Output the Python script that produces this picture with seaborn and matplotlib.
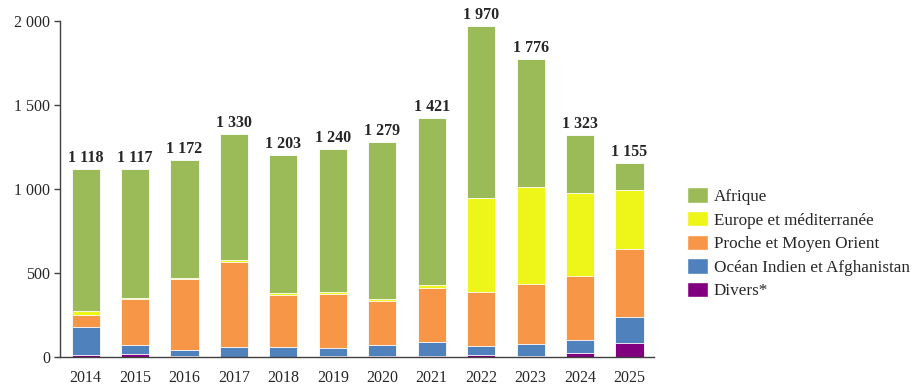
import matplotlib
matplotlib.use("Agg")
import matplotlib.pyplot as plt
import matplotlib.ticker as mticker
from matplotlib.patches import Patch
import seaborn as sns
import pandas as pd

years = [str(y) for y in range(2014, 2026)]
afrique = [846, 766, 702, 753, 824, 855, 936, 994, 1026, 766, 347, 163]
europe = [22, 4, 4, 12, 10, 8, 10, 14, 559, 574, 496, 347]
proche = [71, 276, 426, 507, 311, 321, 262, 322, 320, 359, 381, 407]
ocean = [169, 55, 32, 56, 56, 51, 67, 83, 53, 69, 75, 157]
divers = [10, 16, 8, 2, 2, 5, 4, 8, 12, 8, 24, 81]
totals = [1118, 1117, 1172, 1330, 1203, 1240, 1279, 1421, 1970, 1776, 1323, 1155]

series = ["Afrique", "Europe et méditerranée", "Proche et Moyen Orient",
          "Océan Indien et Afghanistan", "Divers*"]
colors = ["#9BBB59", "#EEF518", "#F79646", "#4F81BD", "#800080"]

df = pd.DataFrame({"Année": years, "Afrique": afrique,
                   "Europe et méditerranée": europe,
                   "Proche et Moyen Orient": proche,
                   "Océan Indien et Afghanistan": ocean, "Divers*": divers})

# cumulative from the bottom (Divers) up, drawn tallest first
stack_order = series[::-1]
cum = df[stack_order].cumsum(axis=1)

sns.set_style("white")
plt.rcParams["font.family"] = ["Liberation Serif", "DejaVu Serif"]

fig = plt.figure(figsize=(9.22, 3.91), dpi=100)
ax = fig.add_axes([0.065, 0.087, 0.644, 0.859])

for name, col in zip(series, colors):
    sns.barplot(x=df["Année"], y=cum[name], color=col, width=0.57,
                edgecolor="white", linewidth=0.6, saturation=1, ax=ax)

for i, t in enumerate(totals):
    ax.text(i, t + 18, f"{t:,}".replace(",", " "), ha="center", va="bottom",
            fontsize=11.5, fontweight="bold", clip_on=False)

ax.set_ylim(0, 2000)
ax.set_xlim(-0.52, 11.49)
ax.set_yticks([0, 500, 1000, 1500, 2000])
ax.yaxis.set_major_formatter(mticker.FuncFormatter(lambda v, p: f"{int(v):,}".replace(",", " ")))
ax.set_xlabel("")
ax.set_ylabel("")
ax.tick_params(axis="y", left=True, length=4, width=1, color="#404040", labelsize=11.5, pad=3)
ax.tick_params(axis="x", bottom=False, labelsize=11.5, pad=6)
for s in ["top", "right"]:
    ax.spines[s].set_visible(False)
for s in ["left", "bottom"]:
    ax.spines[s].set_color("#404040")
    ax.spines[s].set_linewidth(1)

handles = [Patch(facecolor=c, edgecolor="white", label=n) for n, c in zip(series, colors)]
fig.legend(handles=handles, loc="upper left", bbox_to_anchor=(0.728, 0.56),
           frameon=False, fontsize=12.3, handlelength=1.25, handleheight=1.0,
           handletextpad=0.35, labelspacing=0.36)

fig.savefig("out.png", dpi=100)
